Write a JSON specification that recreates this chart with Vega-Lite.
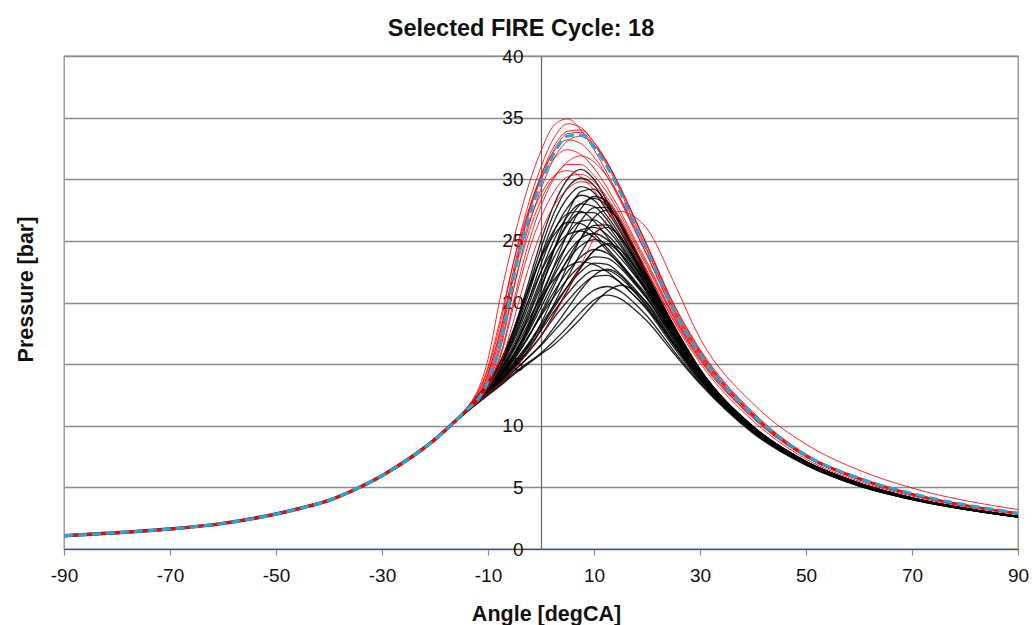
{
"$schema":"https://vega.github.io/schema/vega-lite/v6.json",
"autosize":"none",
"width":954,"height":493,
"padding":{"left":64,"top":56,"right":14,"bottom":76},
"background":"white",
"title":{"text":"Selected FIRE Cycle: 18","fontSize":23.5,"fontWeight":"bold","font":"Liberation Sans","color":"#111111","anchor":"middle","dx":-20,"dy":24,"offset":12,"baseline":"alphabetic"},
"config":{"view":{"stroke":"#8c8c8c","strokeWidth":1.3},"axis":{"labelFont":"Liberation Sans","titleFont":"Liberation Sans"}},
"datasets":{
"shared":[{"a":-90,"p":1.08},{"a":-85,"p":1.2},{"a":-80,"p":1.32},{"a":-75,"p":1.46},{"a":-70,"p":1.62},{"a":-60,"p":2.08},{"a":-50,"p":2.84},{"a":-45,"p":3.35},{"a":-40,"p":3.95},{"a":-35,"p":4.85},{"a":-30,"p":5.95},{"a":-25,"p":7.3},{"a":-20,"p":8.9},{"a":-15,"p":10.85}],
"blue":[{"a":-90,"p":1.08},{"a":-85,"p":1.2},{"a":-80,"p":1.32},{"a":-75,"p":1.46},{"a":-70,"p":1.62},{"a":-60,"p":2.08},{"a":-50,"p":2.84},{"a":-45,"p":3.35},{"a":-40,"p":3.95},{"a":-35,"p":4.85},{"a":-30,"p":5.95},{"a":-25,"p":7.3},{"a":-20,"p":8.9},{"a":-15,"p":10.9},{"a":-10,"p":13.6},{"a":-7.5,"p":16.9},{"a":-5,"p":22.3},{"a":-2.5,"p":26.6},{"a":0,"p":29.7},{"a":2.5,"p":32.1},{"a":5,"p":33.5},{"a":7.5,"p":33.6},{"a":10,"p":32.6},{"a":12.5,"p":31.0},{"a":15,"p":28.9},{"a":17.5,"p":26.5},{"a":20,"p":24.2},{"a":25,"p":19.4},{"a":30,"p":15.8},{"a":40,"p":10.9},{"a":50,"p":7.6},{"a":60,"p":5.75},{"a":70,"p":4.5},{"a":90,"p":2.92}],
"black":[
{"s":1,"a":-15,"p":10.8},{"s":1,"a":-10,"p":12.5},{"s":1,"a":-7.5,"p":13.4},{"s":1,"a":-5,"p":14.3},{"s":1,"a":-2.5,"p":15.1},{"s":1,"a":0,"p":15.9},{"s":1,"a":2.5,"p":16.9},{"s":1,"a":5,"p":18.0},{"s":1,"a":7.5,"p":19.2},{"s":1,"a":10,"p":20.2},{"s":1,"a":12.5,"p":20.6},{"s":1,"a":15,"p":20.3},{"s":1,"a":17.5,"p":19.5},{"s":1,"a":20,"p":18.5},{"s":1,"a":25,"p":15.9},{"s":1,"a":30,"p":13.4},{"s":1,"a":40,"p":9.4},{"s":1,"a":50,"p":6.8},{"s":1,"a":60,"p":5.1},{"s":1,"a":70,"p":4.0},{"s":1,"a":90,"p":2.58},
{"s":2,"a":-15,"p":10.8},{"s":2,"a":-10,"p":12.6},{"s":2,"a":-7.5,"p":13.5},{"s":2,"a":-5,"p":14.5},{"s":2,"a":-2.5,"p":15.5},{"s":2,"a":0,"p":16.5},{"s":2,"a":2.5,"p":17.7},{"s":2,"a":5,"p":18.9},{"s":2,"a":7.5,"p":20.1},{"s":2,"a":10,"p":21.0},{"s":2,"a":12.5,"p":21.3},{"s":2,"a":15,"p":20.9},{"s":2,"a":17.5,"p":20.0},{"s":2,"a":20,"p":18.9},{"s":2,"a":25,"p":16.1},{"s":2,"a":30,"p":13.5},{"s":2,"a":40,"p":9.45},{"s":2,"a":50,"p":6.83},{"s":2,"a":60,"p":5.12},{"s":2,"a":70,"p":4.01},{"s":2,"a":90,"p":2.59},
{"s":3,"a":-15,"p":10.8},{"s":3,"a":-10,"p":12.7},{"s":3,"a":-7.5,"p":13.7},{"s":3,"a":-5,"p":14.9},{"s":3,"a":-2.5,"p":16.0},{"s":3,"a":0,"p":17.3},{"s":3,"a":2.5,"p":18.8},{"s":3,"a":5,"p":20.1},{"s":3,"a":7.5,"p":21.3},{"s":3,"a":10,"p":22.1},{"s":3,"a":12.5,"p":22.2},{"s":3,"a":15,"p":21.6},{"s":3,"a":17.5,"p":20.6},{"s":3,"a":20,"p":19.4},{"s":3,"a":25,"p":16.4},{"s":3,"a":30,"p":13.6},{"s":3,"a":40,"p":9.5},{"s":3,"a":50,"p":6.87},{"s":3,"a":60,"p":5.15},{"s":3,"a":70,"p":4.03},{"s":3,"a":90,"p":2.59},
{"s":4,"a":-15,"p":10.8},{"s":4,"a":-10,"p":12.8},{"s":4,"a":-7.5,"p":13.9},{"s":4,"a":-5,"p":15.2},{"s":4,"a":-2.5,"p":16.6},{"s":4,"a":0,"p":18.2},{"s":4,"a":2.5,"p":19.8},{"s":4,"a":5,"p":21.3},{"s":4,"a":7.5,"p":22.5},{"s":4,"a":10,"p":23.2},{"s":4,"a":12.5,"p":23.1},{"s":4,"a":15,"p":22.3},{"s":4,"a":17.5,"p":21.2},{"s":4,"a":20,"p":19.9},{"s":4,"a":25,"p":16.7},{"s":4,"a":30,"p":13.8},{"s":4,"a":40,"p":9.57},{"s":4,"a":50,"p":6.91},{"s":4,"a":60,"p":5.18},{"s":4,"a":70,"p":4.04},{"s":4,"a":90,"p":2.6},
{"s":5,"a":-15,"p":10.8},{"s":5,"a":-10,"p":12.9},{"s":5,"a":-7.5,"p":14.1},{"s":5,"a":-5,"p":15.5},{"s":5,"a":-2.5,"p":17.1},{"s":5,"a":0,"p":19.0},{"s":5,"a":2.5,"p":20.9},{"s":5,"a":5,"p":22.5},{"s":5,"a":7.5,"p":23.7},{"s":5,"a":10,"p":24.3},{"s":5,"a":12.5,"p":24.0},{"s":5,"a":15,"p":23.1},{"s":5,"a":17.5,"p":21.8},{"s":5,"a":20,"p":20.4},{"s":5,"a":25,"p":17.0},{"s":5,"a":30,"p":13.9},{"s":5,"a":40,"p":9.63},{"s":5,"a":50,"p":6.95},{"s":5,"a":60,"p":5.21},{"s":5,"a":70,"p":4.06},{"s":5,"a":90,"p":2.61},
{"s":6,"a":-15,"p":10.8},{"s":6,"a":-10,"p":13.0},{"s":6,"a":-7.5,"p":14.3},{"s":6,"a":-5,"p":15.9},{"s":6,"a":-2.5,"p":17.8},{"s":6,"a":0,"p":20.0},{"s":6,"a":2.5,"p":22.2},{"s":6,"a":5,"p":24.0},{"s":6,"a":7.5,"p":25.2},{"s":6,"a":10,"p":25.6},{"s":6,"a":12.5,"p":25.1},{"s":6,"a":15,"p":24.0},{"s":6,"a":17.5,"p":22.6},{"s":6,"a":20,"p":21.0},{"s":6,"a":25,"p":17.4},{"s":6,"a":30,"p":14.1},{"s":6,"a":40,"p":9.7},{"s":6,"a":50,"p":7.0},{"s":6,"a":60,"p":5.25},{"s":6,"a":70,"p":4.08},{"s":6,"a":90,"p":2.62},
{"s":7,"a":-15,"p":10.8},{"s":7,"a":-10,"p":13.1},{"s":7,"a":-7.5,"p":14.4},{"s":7,"a":-5,"p":16.2},{"s":7,"a":-2.5,"p":18.2},{"s":7,"a":0,"p":20.6},{"s":7,"a":2.5,"p":22.9},{"s":7,"a":5,"p":24.7},{"s":7,"a":7.5,"p":25.9},{"s":7,"a":10,"p":26.1},{"s":7,"a":12.5,"p":25.5},{"s":7,"a":15,"p":24.3},{"s":7,"a":17.5,"p":22.8},{"s":7,"a":20,"p":21.1},{"s":7,"a":25,"p":17.5},{"s":7,"a":30,"p":14.15},{"s":7,"a":40,"p":9.72},{"s":7,"a":50,"p":7.01},{"s":7,"a":60,"p":5.26},{"s":7,"a":70,"p":4.09},{"s":7,"a":90,"p":2.62},
{"s":8,"a":-15,"p":10.8},{"s":8,"a":-10,"p":13.2},{"s":8,"a":-7.5,"p":14.6},{"s":8,"a":-5,"p":16.4},{"s":8,"a":-2.5,"p":18.7},{"s":8,"a":0,"p":21.3},{"s":8,"a":2.5,"p":23.7},{"s":8,"a":5,"p":25.5},{"s":8,"a":7.5,"p":26.6},{"s":8,"a":10,"p":26.7},{"s":8,"a":12.5,"p":25.9},{"s":8,"a":15,"p":24.6},{"s":8,"a":17.5,"p":23.0},{"s":8,"a":20,"p":21.3},{"s":8,"a":25,"p":17.6},{"s":8,"a":30,"p":14.2},{"s":8,"a":40,"p":9.75},{"s":8,"a":50,"p":7.03},{"s":8,"a":60,"p":5.28},{"s":8,"a":70,"p":4.1},{"s":8,"a":90,"p":2.63},
{"s":9,"a":-15,"p":10.85},{"s":9,"a":-10,"p":13.2},{"s":9,"a":-7.5,"p":14.7},{"s":9,"a":-5,"p":16.7},{"s":9,"a":-2.5,"p":19.2},{"s":9,"a":0,"p":21.9},{"s":9,"a":2.5,"p":24.4},{"s":9,"a":5,"p":26.3},{"s":9,"a":7.5,"p":27.3},{"s":9,"a":10,"p":27.3},{"s":9,"a":12.5,"p":26.3},{"s":9,"a":15,"p":24.8},{"s":9,"a":17.5,"p":23.1},{"s":9,"a":20,"p":21.4},{"s":9,"a":25,"p":17.6},{"s":9,"a":30,"p":14.25},{"s":9,"a":40,"p":9.78},{"s":9,"a":50,"p":7.04},{"s":9,"a":60,"p":5.29},{"s":9,"a":70,"p":4.11},{"s":9,"a":90,"p":2.63},
{"s":10,"a":-15,"p":10.85},{"s":10,"a":-10,"p":13.3},{"s":10,"a":-7.5,"p":14.9},{"s":10,"a":-5,"p":17.0},{"s":10,"a":-2.5,"p":19.6},{"s":10,"a":0,"p":22.5},{"s":10,"a":2.5,"p":25.1},{"s":10,"a":5,"p":27.0},{"s":10,"a":7.5,"p":28.0},{"s":10,"a":10,"p":27.8},{"s":10,"a":12.5,"p":26.7},{"s":10,"a":15,"p":25.1},{"s":10,"a":17.5,"p":23.3},{"s":10,"a":20,"p":21.5},{"s":10,"a":25,"p":17.7},{"s":10,"a":30,"p":14.3},{"s":10,"a":40,"p":9.8},{"s":10,"a":50,"p":7.05},{"s":10,"a":60,"p":5.3},{"s":10,"a":70,"p":4.12},{"s":10,"a":90,"p":2.64},
{"s":11,"a":-15,"p":10.85},{"s":11,"a":-10,"p":13.4},{"s":11,"a":-7.5,"p":15.0},{"s":11,"a":-5,"p":17.2},{"s":11,"a":-2.5,"p":20.0},{"s":11,"a":0,"p":23.1},{"s":11,"a":2.5,"p":25.8},{"s":11,"a":5,"p":27.7},{"s":11,"a":7.5,"p":28.7},{"s":11,"a":10,"p":28.3},{"s":11,"a":12.5,"p":27.0},{"s":11,"a":15,"p":25.4},{"s":11,"a":17.5,"p":23.5},{"s":11,"a":20,"p":21.6},{"s":11,"a":25,"p":17.8},{"s":11,"a":30,"p":14.35},{"s":11,"a":40,"p":9.82},{"s":11,"a":50,"p":7.06},{"s":11,"a":60,"p":5.31},{"s":11,"a":70,"p":4.12},{"s":11,"a":90,"p":2.64},
{"s":12,"a":-15,"p":10.9},{"s":12,"a":-10,"p":13.45},{"s":12,"a":-7.5,"p":15.1},{"s":12,"a":-5,"p":17.5},{"s":12,"a":-2.5,"p":20.5},{"s":12,"a":0,"p":23.8},{"s":12,"a":2.5,"p":26.6},{"s":12,"a":5,"p":28.5},{"s":12,"a":7.5,"p":29.4},{"s":12,"a":10,"p":28.9},{"s":12,"a":12.5,"p":27.4},{"s":12,"a":15,"p":25.7},{"s":12,"a":17.5,"p":23.7},{"s":12,"a":20,"p":21.8},{"s":12,"a":25,"p":17.9},{"s":12,"a":30,"p":14.4},{"s":12,"a":40,"p":9.85},{"s":12,"a":50,"p":7.08},{"s":12,"a":60,"p":5.33},{"s":12,"a":70,"p":4.13},{"s":12,"a":90,"p":2.64},
{"s":13,"a":-15,"p":10.9},{"s":13,"a":-10,"p":13.5},{"s":13,"a":-7.5,"p":15.3},{"s":13,"a":-5,"p":17.8},{"s":13,"a":-2.5,"p":21.0},{"s":13,"a":0,"p":24.4},{"s":13,"a":2.5,"p":27.3},{"s":13,"a":5,"p":29.3},{"s":13,"a":7.5,"p":30.1},{"s":13,"a":10,"p":29.5},{"s":13,"a":12.5,"p":27.8},{"s":13,"a":15,"p":25.9},{"s":13,"a":17.5,"p":23.8},{"s":13,"a":20,"p":21.9},{"s":13,"a":25,"p":17.9},{"s":13,"a":30,"p":14.45},{"s":13,"a":40,"p":9.88},{"s":13,"a":50,"p":7.09},{"s":13,"a":60,"p":5.34},{"s":13,"a":70,"p":4.14},{"s":13,"a":90,"p":2.65},
{"s":14,"a":-15,"p":10.9},{"s":14,"a":-10,"p":13.6},{"s":14,"a":-7.5,"p":15.4},{"s":14,"a":-5,"p":18.0},{"s":14,"a":-2.5,"p":21.4},{"s":14,"a":0,"p":25.0},{"s":14,"a":2.5,"p":28.0},{"s":14,"a":5,"p":30.0},{"s":14,"a":7.5,"p":30.8},{"s":14,"a":10,"p":30.0},{"s":14,"a":12.5,"p":28.2},{"s":14,"a":15,"p":26.2},{"s":14,"a":17.5,"p":24.0},{"s":14,"a":20,"p":22.0},{"s":14,"a":25,"p":18.0},{"s":14,"a":30,"p":14.5},{"s":14,"a":40,"p":9.9},{"s":14,"a":50,"p":7.1},{"s":14,"a":60,"p":5.35},{"s":14,"a":70,"p":4.15},{"s":14,"a":90,"p":2.65},
{"s":15,"a":-15,"p":10.8},{"s":15,"a":-10,"p":12.7},{"s":15,"a":-7.5,"p":13.7},{"s":15,"a":-5,"p":14.9},{"s":15,"a":-2.5,"p":16.4},{"s":15,"a":0,"p":18.3},{"s":15,"a":2.5,"p":20.6},{"s":15,"a":5,"p":23.0},{"s":15,"a":7.5,"p":25.2},{"s":15,"a":10,"p":26.9},{"s":15,"a":12.5,"p":27.5},{"s":15,"a":15,"p":26.5},{"s":15,"a":17.5,"p":24.6},{"s":15,"a":20,"p":22.4},{"s":15,"a":25,"p":18.2},{"s":15,"a":30,"p":14.6},{"s":15,"a":40,"p":9.95},{"s":15,"a":50,"p":7.1},{"s":15,"a":60,"p":5.35},{"s":15,"a":70,"p":4.15},{"s":15,"a":90,"p":2.65},
{"s":16,"a":-15,"p":10.8},{"s":16,"a":-10,"p":12.6},{"s":16,"a":-7.5,"p":13.5},{"s":16,"a":-5,"p":14.5},{"s":16,"a":-2.5,"p":15.5},{"s":16,"a":0,"p":16.6},{"s":16,"a":2.5,"p":18.0},{"s":16,"a":5,"p":19.5},{"s":16,"a":7.5,"p":21.0},{"s":16,"a":10,"p":22.2},{"s":16,"a":12.5,"p":22.7},{"s":16,"a":15,"p":22.2},{"s":16,"a":17.5,"p":21.0},{"s":16,"a":20,"p":19.7},{"s":16,"a":25,"p":16.6},{"s":16,"a":30,"p":13.8},{"s":16,"a":40,"p":9.57},{"s":16,"a":50,"p":6.89},{"s":16,"a":60,"p":5.18},{"s":16,"a":70,"p":4.05},{"s":16,"a":90,"p":2.6},
{"s":17,"a":-15,"p":10.8},{"s":17,"a":-10,"p":12.6},{"s":17,"a":-7.5,"p":13.6},{"s":17,"a":-5,"p":14.7},{"s":17,"a":-2.5,"p":15.9},{"s":17,"a":0,"p":17.3},{"s":17,"a":2.5,"p":19.1},{"s":17,"a":5,"p":21.0},{"s":17,"a":7.5,"p":22.8},{"s":17,"a":10,"p":24.2},{"s":17,"a":12.5,"p":24.7},{"s":17,"a":15,"p":24.0},{"s":17,"a":17.5,"p":22.6},{"s":17,"a":20,"p":20.8},{"s":17,"a":25,"p":17.3},{"s":17,"a":30,"p":14.1},{"s":17,"a":40,"p":9.73},{"s":17,"a":50,"p":6.98},{"s":17,"a":60,"p":5.25},{"s":17,"a":70,"p":4.09},{"s":17,"a":90,"p":2.62},
{"s":18,"a":-15,"p":10.8},{"s":18,"a":-10,"p":12.7},{"s":18,"a":-7.5,"p":13.6},{"s":18,"a":-5,"p":14.8},{"s":18,"a":-2.5,"p":16.1},{"s":18,"a":0,"p":17.8},{"s":18,"a":2.5,"p":19.9},{"s":18,"a":5,"p":22.0},{"s":18,"a":7.5,"p":24.0},{"s":18,"a":10,"p":25.6},{"s":18,"a":12.5,"p":26.1},{"s":18,"a":15,"p":25.3},{"s":18,"a":17.5,"p":23.6},{"s":18,"a":20,"p":21.6},{"s":18,"a":25,"p":17.7},{"s":18,"a":30,"p":14.4},{"s":18,"a":40,"p":9.84},{"s":18,"a":50,"p":7.04},{"s":18,"a":60,"p":5.3},{"s":18,"a":70,"p":4.12},{"s":18,"a":90,"p":2.64},
{"s":19,"a":-15,"p":10.85},{"s":19,"a":-10,"p":13.15},{"s":19,"a":-7.5,"p":14.55},{"s":19,"a":-5,"p":16.45},{"s":19,"a":-2.5,"p":18.9},{"s":19,"a":0,"p":21.65},{"s":19,"a":2.5,"p":24.3},{"s":19,"a":5,"p":26.5},{"s":19,"a":7.5,"p":28.0},{"s":19,"a":10,"p":28.45},{"s":19,"a":12.5,"p":27.85},{"s":19,"a":15,"p":26.35},{"s":19,"a":17.5,"p":24.3},{"s":19,"a":20,"p":22.2},{"s":19,"a":25,"p":18.1},{"s":19,"a":30,"p":14.55},{"s":19,"a":40,"p":9.93},{"s":19,"a":50,"p":7.1},{"s":19,"a":60,"p":5.35},{"s":19,"a":70,"p":4.15},{"s":19,"a":90,"p":2.65},
{"s":20,"a":-15,"p":10.8},{"s":20,"a":-10,"p":12.85},{"s":20,"a":-7.5,"p":14.0},{"s":20,"a":-5,"p":15.4},{"s":20,"a":-2.5,"p":17.1},{"s":20,"a":0,"p":19.15},{"s":20,"a":2.5,"p":21.4},{"s":20,"a":5,"p":23.5},{"s":20,"a":7.5,"p":25.2},{"s":20,"a":10,"p":26.25},{"s":20,"a":12.5,"p":26.3},{"s":20,"a":15,"p":25.25},{"s":20,"a":17.5,"p":23.6},{"s":20,"a":20,"p":21.7},{"s":20,"a":25,"p":17.8},{"s":20,"a":30,"p":14.35},{"s":20,"a":40,"p":9.83},{"s":20,"a":50,"p":7.05},{"s":20,"a":60,"p":5.3},{"s":20,"a":70,"p":4.12},{"s":20,"a":90,"p":2.64},
{"s":21,"a":-15,"p":10.8},{"s":21,"a":-10,"p":12.95},{"s":21,"a":-7.5,"p":14.2},{"s":21,"a":-5,"p":15.7},{"s":21,"a":-2.5,"p":17.5},{"s":21,"a":0,"p":19.6},{"s":21,"a":2.5,"p":21.7},{"s":21,"a":5,"p":23.4},{"s":21,"a":7.5,"p":24.6},{"s":21,"a":10,"p":25.1},{"s":21,"a":12.5,"p":24.7},{"s":21,"a":15,"p":23.6},{"s":21,"a":17.5,"p":22.3},{"s":21,"a":20,"p":20.8},{"s":21,"a":25,"p":17.25},{"s":21,"a":30,"p":14.0},{"s":21,"a":40,"p":9.67},{"s":21,"a":50,"p":6.98},{"s":21,"a":60,"p":5.24},{"s":21,"a":70,"p":4.07},{"s":21,"a":90,"p":2.62},
{"s":22,"a":-15,"p":10.9},{"s":22,"a":-10,"p":13.4},{"s":22,"a":-7.5,"p":15.0},{"s":22,"a":-5,"p":17.3},{"s":22,"a":-2.5,"p":20.0},{"s":22,"a":0,"p":22.5},{"s":22,"a":2.5,"p":24.4},{"s":22,"a":5,"p":25.5},{"s":22,"a":7.5,"p":25.8},{"s":22,"a":10,"p":25.3},{"s":22,"a":12.5,"p":24.2},{"s":22,"a":15,"p":23.0},{"s":22,"a":17.5,"p":21.7},{"s":22,"a":20,"p":20.4},{"s":22,"a":25,"p":17.2},{"s":22,"a":30,"p":14.0},{"s":22,"a":40,"p":9.65},{"s":22,"a":50,"p":6.98},{"s":22,"a":60,"p":5.23},{"s":22,"a":70,"p":4.07},{"s":22,"a":90,"p":2.61},
{"s":23,"a":-15,"p":10.9},{"s":23,"a":-10,"p":13.5},{"s":23,"a":-7.5,"p":15.2},{"s":23,"a":-5,"p":17.7},{"s":23,"a":-2.5,"p":20.8},{"s":23,"a":0,"p":23.7},{"s":23,"a":2.5,"p":25.9},{"s":23,"a":5,"p":27.2},{"s":23,"a":7.5,"p":27.4},{"s":23,"a":10,"p":26.6},{"s":23,"a":12.5,"p":25.3},{"s":23,"a":15,"p":23.9},{"s":23,"a":17.5,"p":22.4},{"s":23,"a":20,"p":21.0},{"s":23,"a":25,"p":17.5},{"s":23,"a":30,"p":14.2},{"s":23,"a":40,"p":9.75},{"s":23,"a":50,"p":7.02},{"s":23,"a":60,"p":5.27},{"s":23,"a":70,"p":4.1},{"s":23,"a":90,"p":2.63},
{"s":24,"a":-15,"p":10.85},{"s":24,"a":-10,"p":13.2},{"s":24,"a":-7.5,"p":14.6},{"s":24,"a":-5,"p":16.4},{"s":24,"a":-2.5,"p":18.5},{"s":24,"a":0,"p":20.4},{"s":24,"a":2.5,"p":21.9},{"s":24,"a":5,"p":22.9},{"s":24,"a":7.5,"p":23.3},{"s":24,"a":10,"p":23.1},{"s":24,"a":12.5,"p":22.5},{"s":24,"a":15,"p":21.6},{"s":24,"a":17.5,"p":20.6},{"s":24,"a":20,"p":19.5},{"s":24,"a":25,"p":16.7},{"s":24,"a":30,"p":13.8},{"s":24,"a":40,"p":9.55},{"s":24,"a":50,"p":6.92},{"s":24,"a":60,"p":5.2},{"s":24,"a":70,"p":4.05},{"s":24,"a":90,"p":2.6},
{"s":25,"a":-15,"p":10.8},{"s":25,"a":-10,"p":12.5},{"s":25,"a":-7.5,"p":13.3},{"s":25,"a":-5,"p":14.2},{"s":25,"a":-2.5,"p":15.0},{"s":25,"a":0,"p":15.8},{"s":25,"a":2.5,"p":16.6},{"s":25,"a":5,"p":17.6},{"s":25,"a":7.5,"p":18.7},{"s":25,"a":10,"p":19.9},{"s":25,"a":12.5,"p":20.9},{"s":25,"a":15,"p":21.4},{"s":25,"a":17.5,"p":21.0},{"s":25,"a":20,"p":20.0},{"s":25,"a":25,"p":16.8},{"s":25,"a":30,"p":13.9},{"s":25,"a":40,"p":9.6},{"s":25,"a":50,"p":6.9},{"s":25,"a":60,"p":5.18},{"s":25,"a":70,"p":4.04},{"s":25,"a":90,"p":2.6},
{"s":26,"a":-15,"p":10.83},{"s":26,"a":-10,"p":12.93},{"s":26,"a":-7.5,"p":14.13},{"s":26,"a":-5,"p":15.7},{"s":26,"a":-2.5,"p":17.65},{"s":26,"a":0,"p":20.0},{"s":26,"a":2.5,"p":22.45},{"s":26,"a":5,"p":24.75},{"s":26,"a":7.5,"p":26.6},{"s":26,"a":10,"p":27.7},{"s":26,"a":12.5,"p":27.7},{"s":26,"a":15,"p":26.4},{"s":26,"a":17.5,"p":24.45},{"s":26,"a":20,"p":22.3},{"s":26,"a":25,"p":18.15},{"s":26,"a":30,"p":14.58},{"s":26,"a":40,"p":9.94},{"s":26,"a":50,"p":7.1},{"s":26,"a":60,"p":5.35},{"s":26,"a":70,"p":4.15},{"s":26,"a":90,"p":2.65},
{"s":27,"a":-15,"p":10.8},{"s":27,"a":-10,"p":12.7},{"s":27,"a":-7.5,"p":13.8},{"s":27,"a":-5,"p":15.0},{"s":27,"a":-2.5,"p":16.3},{"s":27,"a":0,"p":17.75},{"s":27,"a":2.5,"p":19.3},{"s":27,"a":5,"p":20.7},{"s":27,"a":7.5,"p":21.9},{"s":27,"a":10,"p":22.6},{"s":27,"a":12.5,"p":22.6},{"s":27,"a":15,"p":22.0},{"s":27,"a":17.5,"p":20.9},{"s":27,"a":20,"p":19.6},{"s":27,"a":25,"p":16.6},{"s":27,"a":30,"p":13.7},{"s":27,"a":40,"p":9.54},{"s":27,"a":50,"p":6.89},{"s":27,"a":60,"p":5.17},{"s":27,"a":70,"p":4.04},{"s":27,"a":90,"p":2.6},
{"s":28,"a":-15,"p":10.9},{"s":28,"a":-10,"p":13.5},{"s":28,"a":-7.5,"p":15.3},{"s":28,"a":-5,"p":18.0},{"s":28,"a":-2.5,"p":21.0},{"s":28,"a":0,"p":23.6},{"s":28,"a":2.5,"p":25.5},{"s":28,"a":5,"p":26.5},{"s":28,"a":7.5,"p":26.4},{"s":28,"a":10,"p":25.6},{"s":28,"a":12.5,"p":24.4},{"s":28,"a":15,"p":23.2},{"s":28,"a":17.5,"p":21.9},{"s":28,"a":20,"p":20.6},{"s":28,"a":25,"p":17.3},{"s":28,"a":30,"p":14.1},{"s":28,"a":40,"p":9.7},{"s":28,"a":50,"p":7.0},{"s":28,"a":60,"p":5.25},{"s":28,"a":70,"p":4.08},{"s":28,"a":90,"p":2.62},
{"s":29,"a":-15,"p":10.85},{"s":29,"a":-10,"p":13.0},{"s":29,"a":-7.5,"p":14.2},{"s":29,"a":-5,"p":15.8},{"s":29,"a":-2.5,"p":18.0},{"s":29,"a":0,"p":21.0},{"s":29,"a":2.5,"p":24.3},{"s":29,"a":5,"p":27.2},{"s":29,"a":7.5,"p":29.0},{"s":29,"a":10,"p":29.2},{"s":29,"a":12.5,"p":28.0},{"s":29,"a":15,"p":26.3},{"s":29,"a":17.5,"p":24.2},{"s":29,"a":20,"p":22.1},{"s":29,"a":25,"p":18.0},{"s":29,"a":30,"p":14.5},{"s":29,"a":40,"p":9.9},{"s":29,"a":50,"p":7.1},{"s":29,"a":60,"p":5.35},{"s":29,"a":70,"p":4.15},{"s":29,"a":90,"p":2.65},
{"s":30,"a":-15,"p":10.8},{"s":30,"a":-10,"p":12.8},{"s":30,"a":-7.5,"p":13.9},{"s":30,"a":-5,"p":15.1},{"s":30,"a":-2.5,"p":16.5},{"s":30,"a":0,"p":18.0},{"s":30,"a":2.5,"p":19.6},{"s":30,"a":5,"p":21.3},{"s":30,"a":7.5,"p":22.9},{"s":30,"a":10,"p":24.2},{"s":30,"a":12.5,"p":24.8},{"s":30,"a":15,"p":24.3},{"s":30,"a":17.5,"p":23.0},{"s":30,"a":20,"p":21.3},{"s":30,"a":25,"p":17.6},{"s":30,"a":30,"p":14.3},{"s":30,"a":40,"p":9.8},{"s":30,"a":50,"p":7.02},{"s":30,"a":60,"p":5.28},{"s":30,"a":70,"p":4.1},{"s":30,"a":90,"p":2.63},
{"s":31,"a":-15,"p":10.85},{"s":31,"a":-10,"p":13.0},{"s":31,"a":-7.5,"p":14.3},{"s":31,"a":-5,"p":15.9},{"s":31,"a":-2.5,"p":17.9},{"s":31,"a":0,"p":20.3},{"s":31,"a":2.5,"p":23.0},{"s":31,"a":5,"p":25.6},{"s":31,"a":7.5,"p":27.6},{"s":31,"a":10,"p":28.6},{"s":31,"a":12.5,"p":28.2},{"s":31,"a":15,"p":26.6},{"s":31,"a":17.5,"p":24.4},{"s":31,"a":20,"p":22.2},{"s":31,"a":25,"p":18.1},{"s":31,"a":30,"p":14.55},{"s":31,"a":40,"p":9.93},{"s":31,"a":50,"p":7.1},{"s":31,"a":60,"p":5.35},{"s":31,"a":70,"p":4.15},{"s":31,"a":90,"p":2.65},
{"s":32,"a":-15,"p":10.8},{"s":32,"a":-10,"p":12.9},{"s":32,"a":-7.5,"p":14.1},{"s":32,"a":-5,"p":15.6},{"s":32,"a":-2.5,"p":17.2},{"s":32,"a":0,"p":18.9},{"s":32,"a":2.5,"p":20.5},{"s":32,"a":5,"p":21.9},{"s":32,"a":7.5,"p":23.0},{"s":32,"a":10,"p":23.7},{"s":32,"a":12.5,"p":23.6},{"s":32,"a":15,"p":22.8},{"s":32,"a":17.5,"p":21.6},{"s":32,"a":20,"p":20.3},{"s":32,"a":25,"p":17.0},{"s":32,"a":30,"p":13.9},{"s":32,"a":40,"p":9.62},{"s":32,"a":50,"p":6.94},{"s":32,"a":60,"p":5.2},{"s":32,"a":70,"p":4.06},{"s":32,"a":90,"p":2.61}
],
"red":[
{"s":1,"a":-15,"p":11.0},{"s":1,"a":-10,"p":15.4},{"s":1,"a":-7.5,"p":20.8},{"s":1,"a":-5,"p":25.4},{"s":1,"a":-2.5,"p":29.3},{"s":1,"a":0,"p":32.3},{"s":1,"a":2.5,"p":34.4},{"s":1,"a":5,"p":34.9},{"s":1,"a":7.5,"p":34.0},{"s":1,"a":10,"p":32.4},{"s":1,"a":12.5,"p":30.5},{"s":1,"a":15,"p":28.4},{"s":1,"a":17.5,"p":26.1},{"s":1,"a":20,"p":23.9},{"s":1,"a":25,"p":19.3},{"s":1,"a":30,"p":15.8},{"s":1,"a":40,"p":10.9},{"s":1,"a":50,"p":7.6},{"s":1,"a":60,"p":5.75},{"s":1,"a":70,"p":4.48},{"s":1,"a":90,"p":2.9},
{"s":2,"a":-15,"p":10.95},{"s":2,"a":-10,"p":14.6},{"s":2,"a":-7.5,"p":18.6},{"s":2,"a":-5,"p":23.6},{"s":2,"a":-2.5,"p":27.8},{"s":2,"a":0,"p":31.0},{"s":2,"a":2.5,"p":33.4},{"s":2,"a":5,"p":34.5},{"s":2,"a":7.5,"p":34.2},{"s":2,"a":10,"p":33.0},{"s":2,"a":12.5,"p":31.3},{"s":2,"a":15,"p":29.2},{"s":2,"a":17.5,"p":26.9},{"s":2,"a":20,"p":24.6},{"s":2,"a":25,"p":19.9},{"s":2,"a":30,"p":16.2},{"s":2,"a":40,"p":11.1},{"s":2,"a":50,"p":7.7},{"s":2,"a":60,"p":5.8},{"s":2,"a":70,"p":4.52},{"s":2,"a":90,"p":2.93},
{"s":3,"a":-15,"p":10.9},{"s":3,"a":-10,"p":14.0},{"s":3,"a":-7.5,"p":17.6},{"s":3,"a":-5,"p":22.6},{"s":3,"a":-2.5,"p":27.0},{"s":3,"a":0,"p":30.3},{"s":3,"a":2.5,"p":32.7},{"s":3,"a":5,"p":33.9},{"s":3,"a":7.5,"p":34.0},{"s":3,"a":10,"p":33.0},{"s":3,"a":12.5,"p":31.4},{"s":3,"a":15,"p":29.3},{"s":3,"a":17.5,"p":27.0},{"s":3,"a":20,"p":24.7},{"s":3,"a":25,"p":19.9},{"s":3,"a":30,"p":16.1},{"s":3,"a":40,"p":11.0},{"s":3,"a":50,"p":7.65},{"s":3,"a":60,"p":5.78},{"s":3,"a":70,"p":4.5},{"s":3,"a":90,"p":2.92},
{"s":4,"a":-15,"p":10.9},{"s":4,"a":-10,"p":13.8},{"s":4,"a":-7.5,"p":17.2},{"s":4,"a":-5,"p":22.5},{"s":4,"a":-2.5,"p":26.9},{"s":4,"a":0,"p":30.0},{"s":4,"a":2.5,"p":32.4},{"s":4,"a":5,"p":33.7},{"s":4,"a":7.5,"p":33.8},{"s":4,"a":10,"p":32.8},{"s":4,"a":12.5,"p":31.1},{"s":4,"a":15,"p":29.0},{"s":4,"a":17.5,"p":26.6},{"s":4,"a":20,"p":24.3},{"s":4,"a":25,"p":19.5},{"s":4,"a":30,"p":15.9},{"s":4,"a":40,"p":10.9},{"s":4,"a":50,"p":7.6},{"s":4,"a":60,"p":5.75},{"s":4,"a":70,"p":4.48},{"s":4,"a":90,"p":2.9},
{"s":5,"a":-15,"p":10.9},{"s":5,"a":-10,"p":13.4},{"s":5,"a":-7.5,"p":16.5},{"s":5,"a":-5,"p":21.4},{"s":5,"a":-2.5,"p":25.9},{"s":5,"a":0,"p":29.2},{"s":5,"a":2.5,"p":31.7},{"s":5,"a":5,"p":33.1},{"s":5,"a":7.5,"p":33.5},{"s":5,"a":10,"p":32.8},{"s":5,"a":12.5,"p":31.3},{"s":5,"a":15,"p":29.3},{"s":5,"a":17.5,"p":27.0},{"s":5,"a":20,"p":24.6},{"s":5,"a":25,"p":19.7},{"s":5,"a":30,"p":16.0},{"s":5,"a":40,"p":10.95},{"s":5,"a":50,"p":7.6},{"s":5,"a":60,"p":5.75},{"s":5,"a":70,"p":4.48},{"s":5,"a":90,"p":2.9},
{"s":6,"a":-15,"p":10.9},{"s":6,"a":-10,"p":14.2},{"s":6,"a":-7.5,"p":18.0},{"s":6,"a":-5,"p":23.0},{"s":6,"a":-2.5,"p":27.2},{"s":6,"a":0,"p":30.3},{"s":6,"a":2.5,"p":32.3},{"s":6,"a":5,"p":33.2},{"s":6,"a":7.5,"p":32.9},{"s":6,"a":10,"p":31.8},{"s":6,"a":12.5,"p":30.2},{"s":6,"a":15,"p":28.2},{"s":6,"a":17.5,"p":26.0},{"s":6,"a":20,"p":23.8},{"s":6,"a":25,"p":19.2},{"s":6,"a":30,"p":15.7},{"s":6,"a":40,"p":10.8},{"s":6,"a":50,"p":7.55},{"s":6,"a":60,"p":5.7},{"s":6,"a":70,"p":4.45},{"s":6,"a":90,"p":2.88},
{"s":7,"a":-15,"p":10.95},{"s":7,"a":-10,"p":14.8},{"s":7,"a":-7.5,"p":19.0},{"s":7,"a":-5,"p":23.6},{"s":7,"a":-2.5,"p":27.3},{"s":7,"a":0,"p":30.0},{"s":7,"a":2.5,"p":31.7},{"s":7,"a":5,"p":32.4},{"s":7,"a":7.5,"p":32.0},{"s":7,"a":10,"p":30.9},{"s":7,"a":12.5,"p":29.3},{"s":7,"a":15,"p":27.4},{"s":7,"a":17.5,"p":25.3},{"s":7,"a":20,"p":23.3},{"s":7,"a":25,"p":19.0},{"s":7,"a":30,"p":15.6},{"s":7,"a":40,"p":10.8},{"s":7,"a":50,"p":7.5},{"s":7,"a":60,"p":5.68},{"s":7,"a":70,"p":4.42},{"s":7,"a":90,"p":2.87},
{"s":8,"a":-15,"p":10.9},{"s":8,"a":-10,"p":13.3},{"s":8,"a":-7.5,"p":16.0},{"s":8,"a":-5,"p":20.4},{"s":8,"a":-2.5,"p":24.6},{"s":8,"a":0,"p":27.8},{"s":8,"a":2.5,"p":30.1},{"s":8,"a":5,"p":31.4},{"s":8,"a":7.5,"p":31.9},{"s":8,"a":10,"p":31.4},{"s":8,"a":12.5,"p":30.2},{"s":8,"a":15,"p":28.4},{"s":8,"a":17.5,"p":26.3},{"s":8,"a":20,"p":24.2},{"s":8,"a":25,"p":19.5},{"s":8,"a":30,"p":15.9},{"s":8,"a":40,"p":10.9},{"s":8,"a":50,"p":7.6},{"s":8,"a":60,"p":5.72},{"s":8,"a":70,"p":4.46},{"s":8,"a":90,"p":2.9},
{"s":9,"a":-15,"p":10.9},{"s":9,"a":-10,"p":13.6},{"s":9,"a":-7.5,"p":16.8},{"s":9,"a":-5,"p":21.5},{"s":9,"a":-2.5,"p":25.4},{"s":9,"a":0,"p":28.3},{"s":9,"a":2.5,"p":30.2},{"s":9,"a":5,"p":31.2},{"s":9,"a":7.5,"p":31.2},{"s":9,"a":10,"p":30.3},{"s":9,"a":12.5,"p":28.9},{"s":9,"a":15,"p":27.1},{"s":9,"a":17.5,"p":25.1},{"s":9,"a":20,"p":23.1},{"s":9,"a":25,"p":18.9},{"s":9,"a":30,"p":15.5},{"s":9,"a":40,"p":10.7},{"s":9,"a":50,"p":7.5},{"s":9,"a":60,"p":5.65},{"s":9,"a":70,"p":4.4},{"s":9,"a":90,"p":2.86},
{"s":10,"a":-15,"p":10.9},{"s":10,"a":-10,"p":14.3},{"s":10,"a":-7.5,"p":18.0},{"s":10,"a":-5,"p":22.5},{"s":10,"a":-2.5,"p":26.2},{"s":10,"a":0,"p":28.8},{"s":10,"a":2.5,"p":30.3},{"s":10,"a":5,"p":30.7},{"s":10,"a":7.5,"p":30.2},{"s":10,"a":10,"p":29.1},{"s":10,"a":12.5,"p":27.6},{"s":10,"a":15,"p":25.9},{"s":10,"a":17.5,"p":24.1},{"s":10,"a":20,"p":22.4},{"s":10,"a":25,"p":18.6},{"s":10,"a":30,"p":15.3},{"s":10,"a":40,"p":10.6},{"s":10,"a":50,"p":7.45},{"s":10,"a":60,"p":5.62},{"s":10,"a":70,"p":4.38},{"s":10,"a":90,"p":2.85},
{"s":11,"a":-15,"p":10.9},{"s":11,"a":-10,"p":13.2},{"s":11,"a":-7.5,"p":15.8},{"s":11,"a":-5,"p":20.0},{"s":11,"a":-2.5,"p":23.9},{"s":11,"a":0,"p":26.9},{"s":11,"a":2.5,"p":29.0},{"s":11,"a":5,"p":30.2},{"s":11,"a":7.5,"p":30.4},{"s":11,"a":10,"p":29.8},{"s":11,"a":12.5,"p":28.5},{"s":11,"a":15,"p":26.8},{"s":11,"a":17.5,"p":24.9},{"s":11,"a":20,"p":22.9},{"s":11,"a":25,"p":18.8},{"s":11,"a":30,"p":15.4},{"s":11,"a":40,"p":10.7},{"s":11,"a":50,"p":7.5},{"s":11,"a":60,"p":5.65},{"s":11,"a":70,"p":4.4},{"s":11,"a":90,"p":2.86},
{"s":12,"a":-15,"p":10.9},{"s":12,"a":-10,"p":13.1},{"s":12,"a":-7.5,"p":15.2},{"s":12,"a":-5,"p":18.8},{"s":12,"a":-2.5,"p":22.6},{"s":12,"a":0,"p":25.7},{"s":12,"a":2.5,"p":27.9},{"s":12,"a":5,"p":29.2},{"s":12,"a":7.5,"p":29.8},{"s":12,"a":10,"p":29.5},{"s":12,"a":12.5,"p":28.3},{"s":12,"a":15,"p":26.6},{"s":12,"a":17.5,"p":24.6},{"s":12,"a":20,"p":22.6},{"s":12,"a":25,"p":18.5},{"s":12,"a":30,"p":15.1},{"s":12,"a":40,"p":10.4},{"s":12,"a":50,"p":7.3},{"s":12,"a":60,"p":5.5},{"s":12,"a":70,"p":4.3},{"s":12,"a":90,"p":2.78},
{"s":13,"a":-15,"p":10.8},{"s":13,"a":-10,"p":12.6},{"s":13,"a":-7.5,"p":13.5},{"s":13,"a":-5,"p":14.6},{"s":13,"a":-2.5,"p":15.9},{"s":13,"a":0,"p":17.3},{"s":13,"a":2.5,"p":19.0},{"s":13,"a":5,"p":20.9},{"s":13,"a":7.5,"p":23.0},{"s":13,"a":10,"p":25.2},{"s":13,"a":12.5,"p":26.8},{"s":13,"a":15,"p":27.4},{"s":13,"a":17.5,"p":27.0},{"s":13,"a":20,"p":26.0},{"s":13,"a":25,"p":21.7},{"s":13,"a":30,"p":17.1},{"s":13,"a":40,"p":11.8},{"s":13,"a":50,"p":8.5},{"s":13,"a":60,"p":6.4},{"s":13,"a":70,"p":4.95},{"s":13,"a":90,"p":3.2}
]
},
"encoding":{
"x":{"field":"a","type":"quantitative","scale":{"domain":[-90,90],"nice":false,"zero":false},
"axis":{"values":[-90,-70,-50,-30,-10,10,30,50,70,90],"labelExpr":"'' + datum.value","title":"Angle [degCA]","grid":false,"domainColor":"#ff0000","domainWidth":1.2,"tickColor":"#8c8c8c","tickSize":6,"tickWidth":1.2,"labelFontSize":19,"labelColor":"#111111","labelPadding":11,"labelFlush":false,"labelOverlap":false,"titleFontSize":21.5,"titleFontWeight":"bold","titleColor":"#111111","titleBaseline":"alphabetic","titleAlign":"center","titleX":482,"titleY":71}},
"y":{"field":"p","type":"quantitative","scale":{"domain":[0,40],"nice":false},
"axis":{"values":[0,5,10,15,20,25,30,35,40],"zindex":0,"title":"Pressure [bar]","offset":-477,"grid":true,"gridColor":"#8c8c8c","gridWidth":1.3,"domainColor":"#666666","domainWidth":1.2,"ticks":false,"tickSize":0,"labelPadding":18,"labelFontSize":19,"labelColor":"#111111","labelOverlap":false,"titleFontSize":21.5,"titleFontWeight":"bold","titleColor":"#111111","titleBaseline":"alphabetic","titleAlign":"center","titleX":-509,"titleY":233}}
},
"layer":[
{"data":{"name":"shared"},"mark":{"type":"line","interpolate":"monotone","color":"#000000","strokeWidth":3.5,"opacity":0.8,"zindex":1}},
{"data":{"name":"black"},"mark":{"type":"line","interpolate":"monotone","color":"#000000","strokeWidth":1.3,"opacity":0.85,"zindex":1},"encoding":{"detail":{"field":"s"}}},
{"data":{"name":"shared"},"mark":{"type":"line","interpolate":"monotone","color":"#ff0000","strokeWidth":2.8,"zindex":1}},
{"data":{"name":"red"},"mark":{"type":"line","interpolate":"monotone","color":"#ff0000","strokeWidth":1,"opacity":0.85,"zindex":1},"encoding":{"detail":{"field":"s"}}},
{"data":{"name":"blue"},"mark":{"type":"line","interpolate":"monotone","color":"#22a6de","strokeWidth":3,"strokeDash":[9,5],"zindex":1}}
]
}
